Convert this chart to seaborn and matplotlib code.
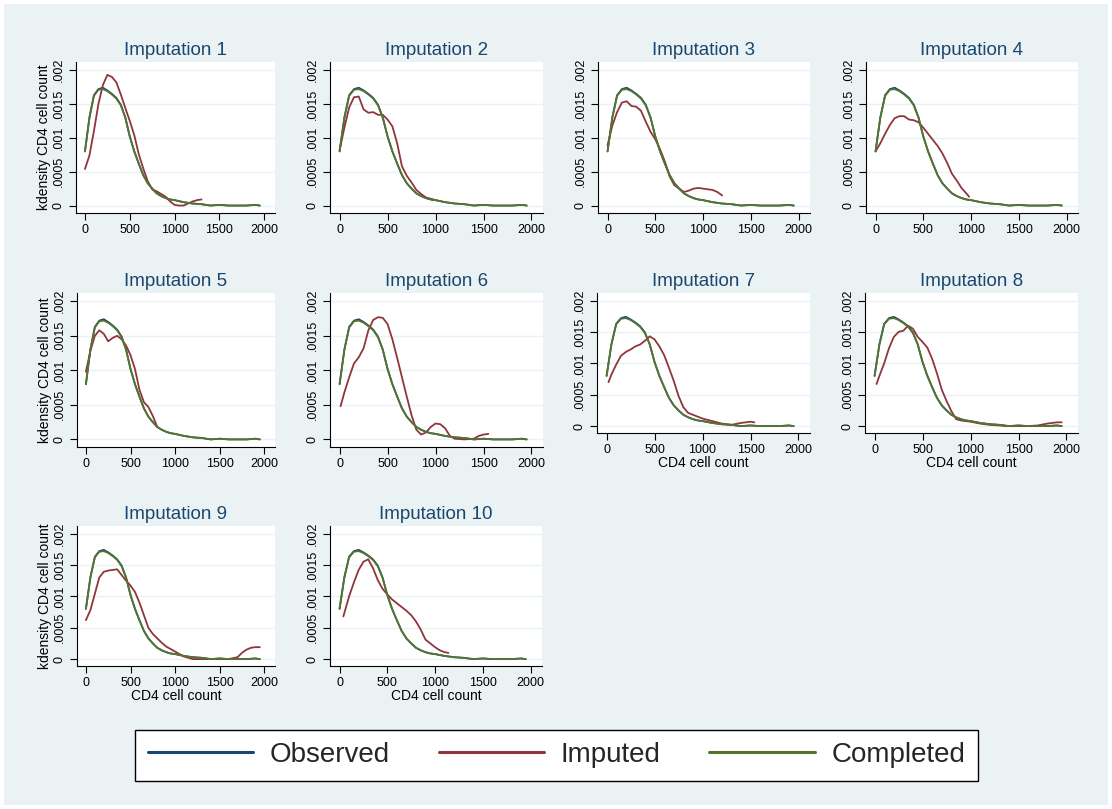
import numpy as np
import pandas as pd
import matplotlib
matplotlib.use("Agg")
import matplotlib.pyplot as plt
import seaborn as sns
from matplotlib.patches import Rectangle
from matplotlib.lines import Line2D

# ---------------- data (density values in units of 0.001) ----------------
obs_x = [0, 50, 100, 150, 200, 250, 300, 350, 400, 450, 500, 550, 600, 650, 700, 750,
         800, 850, 900, 950, 1000, 1100, 1200, 1300, 1400, 1500, 1600, 1700, 1800, 1900, 1950]
observed_y = [0.80, 1.30, 1.63, 1.72, 1.74, 1.70, 1.65, 1.59, 1.49, 1.30, 1.02, 0.80, 0.62, 0.45,
              0.33, 0.25, 0.18, 0.14, 0.11, 0.09, 0.08, 0.05, 0.03, 0.02, 0.00, 0.01, 0.00, 0.00,
              0.00, 0.01, 0.00]
completed_y = [0.80, 1.30, 1.62, 1.71, 1.72, 1.69, 1.64, 1.58, 1.48, 1.30, 1.02, 0.80, 0.62, 0.45,
               0.33, 0.25, 0.18, 0.14, 0.11, 0.09, 0.08, 0.05, 0.03, 0.02, 0.00, 0.01, 0.00, 0.00,
               0.00, 0.01, 0.00]

imp1_x = [0, 50, 100, 150, 200, 250, 300, 350, 400, 450, 500, 550, 600, 650, 700, 750, 800, 850,
          900, 950, 1000, 1050, 1100, 1150, 1200, 1250, 1300]
imp1_y = [0.54, 0.74, 1.10, 1.50, 1.78, 1.93, 1.90, 1.82, 1.64, 1.44, 1.25, 1.04, 0.76, 0.55, 0.36,
          0.24, 0.21, 0.17, 0.13, 0.06, 0.01, 0.00, 0.00, 0.03, 0.06, 0.08, 0.09]

imp2_x = [0, 50, 100, 150, 200, 250, 300, 350, 400, 450, 500, 550, 600, 650, 700, 750, 800, 850,
          900, 950, 1000]
imp2_y = [0.82, 1.15, 1.45, 1.60, 1.61, 1.42, 1.37, 1.38, 1.34, 1.34, 1.27, 1.17, 0.92, 0.58, 0.44,
          0.34, 0.23, 0.17, 0.12, 0.10, 0.08]

imp3_x = [0, 50, 100, 150, 200, 250, 300, 350, 400, 450, 500, 550, 600, 650, 700, 750, 800, 850,
          900, 950, 1000, 1050, 1100, 1150, 1200]
imp3_y = [0.89, 1.18, 1.38, 1.52, 1.54, 1.47, 1.46, 1.40, 1.24, 1.09, 0.98, 0.83, 0.65, 0.43, 0.30,
          0.25, 0.20, 0.22, 0.25, 0.26, 0.25, 0.24, 0.23, 0.20, 0.15]

imp4_x = [0, 50, 100, 150, 200, 250, 300, 350, 400, 450, 500, 550, 600, 650, 700, 750, 800, 850,
          900, 950, 980]
imp4_y = [0.80, 0.92, 1.06, 1.19, 1.29, 1.32, 1.32, 1.27, 1.26, 1.23, 1.15, 1.06, 0.97, 0.88, 0.77,
          0.63, 0.47, 0.37, 0.26, 0.18, 0.13]

imp5_x = [0, 50, 100, 150, 200, 250, 300, 350, 400, 450, 500, 550, 600, 650, 700, 750, 800]
imp5_y = [0.98, 1.28, 1.50, 1.58, 1.53, 1.42, 1.47, 1.50, 1.45, 1.36, 1.22, 1.02, 0.72, 0.54, 0.47,
          0.34, 0.18]

imp6_x = [10, 50, 100, 150, 200, 250, 300, 350, 400, 450, 500, 550, 600, 650, 700, 750, 800, 850,
          900, 950, 1000, 1050, 1100, 1150, 1200, 1300, 1400, 1450, 1500, 1550]
imp6_y = [0.48, 0.68, 0.90, 1.10, 1.19, 1.32, 1.58, 1.73, 1.77, 1.76, 1.67, 1.45, 1.18, 0.90, 0.62,
          0.35, 0.14, 0.07, 0.10, 0.18, 0.23, 0.22, 0.16, 0.05, 0.01, 0.00, 0.01, 0.05, 0.07, 0.08]

imp7_x = [20, 50, 100, 150, 200, 250, 300, 350, 400, 450, 500, 550, 600, 650, 700, 750, 800, 850,
          900, 950, 1000, 1100, 1200, 1300, 1400, 1500, 1540]
imp7_y = [0.70, 0.82, 0.98, 1.12, 1.18, 1.22, 1.27, 1.30, 1.36, 1.43, 1.38, 1.27, 1.13, 0.93, 0.72,
          0.48, 0.30, 0.21, 0.18, 0.15, 0.12, 0.08, 0.04, 0.02, 0.05, 0.07, 0.06]

imp8_x = [20, 50, 100, 150, 200, 250, 300, 350, 400, 450, 500, 550, 600, 650, 700, 750, 800, 850,
          900, 950, 1000, 1100, 1200, 1300, 1400, 1500, 1600, 1700, 1800, 1900, 1950]
imp8_y = [0.67, 0.80, 1.00, 1.24, 1.42, 1.50, 1.52, 1.60, 1.55, 1.42, 1.34, 1.25, 1.07, 0.84, 0.58,
          0.40, 0.24, 0.11, 0.09, 0.08, 0.07, 0.04, 0.02, 0.01, 0.00, 0.00, 0.00, 0.01, 0.04, 0.06,
          0.06]

imp9_x = [0, 50, 100, 150, 200, 250, 300, 350, 400, 450, 500, 550, 600, 650, 700, 750, 800, 850,
          900, 950, 1000, 1100, 1200, 1300, 1400, 1500, 1600, 1700, 1750, 1800, 1850, 1900, 1950]
imp9_y = [0.62, 0.78, 1.04, 1.30, 1.39, 1.41, 1.42, 1.43, 1.34, 1.25, 1.17, 1.07, 0.90, 0.70, 0.50,
          0.40, 0.33, 0.26, 0.20, 0.16, 0.12, 0.04, 0.00, 0.00, 0.00, 0.00, 0.00, 0.03, 0.10, 0.15,
          0.18, 0.19, 0.19]

imp10_x = [40, 100, 150, 200, 250, 300, 350, 400, 450, 500, 550, 600, 650, 700, 750, 800, 850,
           900, 950, 1000, 1050, 1100, 1140]
imp10_y = [0.68, 1.00, 1.22, 1.42, 1.55, 1.59, 1.45, 1.26, 1.12, 1.03, 0.95, 0.89, 0.83, 0.77,
           0.70, 0.60, 0.47, 0.31, 0.25, 0.19, 0.14, 0.11, 0.10]

imputed = [(imp1_x, imp1_y), (imp2_x, imp2_y), (imp3_x, imp3_y), (imp4_x, imp4_y),
           (imp5_x, imp5_y), (imp6_x, imp6_y), (imp7_x, imp7_y), (imp8_x, imp8_y),
           (imp9_x, imp9_y), (imp10_x, imp10_y)]

series_names = ["Observed", "Imputed", "Completed"]
x_ticks = [0, 500, 1000, 1500, 2000]
y_ticks = [0, 0.0005, 0.001, 0.0015, 0.002]
y_tick_labels = ["0", ".0005", ".001", ".0015", ".002"]

# ---------------- styling ----------------
BG = "#EAF2F3"
TITLE_C = "#1a476f"
palette = {"Observed": "#1a476f", "Imputed": "#90353b", "Completed": "#55752f"}

sns.set_theme(style="white")
plt.rcParams['font.family'] = ['Liberation Sans', 'DejaVu Sans']

W, H = 1112, 809
fig = plt.figure(figsize=(W / 100, H / 100), dpi=100, facecolor="white")
fig.patches.append(Rectangle((4 / W, 4 / H), (W - 8) / W, (H - 8) / H, transform=fig.transFigure,
                             facecolor=BG, edgecolor="none", zorder=-10))

# panel boxes in pixels: left, top, right, bottom
boxes = {
    1: (76, 62, 275, 213), 2: (330, 62, 543, 213), 3: (598, 62, 810, 213), 4: (866, 62, 1078, 213),
    5: (77, 293, 275, 447), 6: (330, 293, 543, 447), 7: (597, 293, 810, 433), 8: (865, 293, 1078, 433),
    9: (77, 526, 275, 666), 10: (330, 526, 542, 666),
}

for i in range(1, 11):
    l, t, r, b = boxes[i]
    ax = fig.add_axes([l / W, 1 - b / H, (r - l) / W, (b - t) / H])
    ix, iy = imputed[i - 1]
    df = pd.concat([
        pd.DataFrame({"cd4": obs_x, "density": np.array(observed_y) * 1e-3, "series": "Observed"}),
        pd.DataFrame({"cd4": ix, "density": np.array(iy) * 1e-3, "series": "Imputed"}),
        pd.DataFrame({"cd4": obs_x, "density": np.array(completed_y) * 1e-3, "series": "Completed"}),
    ], ignore_index=True)
    sns.lineplot(data=df, x="cd4", y="density", hue="series", hue_order=series_names,
                 palette=palette, estimator=None, sort=False, legend=False, ax=ax, linewidth=1.3)
    ax.set_facecolor("white")
    ax.set_xlim(-100, 2120)
    ax.set_ylim(-0.00011, 0.00212)
    ax.set_xticks(x_ticks)
    ax.set_xticklabels([str(v) for v in x_ticks])
    ax.set_yticks(y_ticks)
    ax.set_yticklabels(y_tick_labels)
    ax.tick_params(axis="both", direction="out", length=5, width=0.8, color="black",
                   labelsize=9, labelcolor="black", bottom=True, left=True)
    ax.tick_params(axis="y", labelrotation=90, pad=3)
    ax.tick_params(axis="x", pad=3)
    for lab in ax.get_yticklabels():
        lab.set_va("center")
    ax.grid(axis="y", color=BG, linewidth=1.0)
    ax.grid(axis="x", visible=False)
    ax.set_axisbelow(True)
    for s in ["top", "right"]:
        ax.spines[s].set_visible(False)
    for s in ["left", "bottom"]:
        ax.spines[s].set_color("black")
        ax.spines[s].set_linewidth(0.8)
    ax.set_title(f"Imputation {i}", color=TITLE_C, fontsize=13.5, pad=5)
    if i in (1, 5, 9):
        ax.set_ylabel("kdensity CD4 cell count", fontsize=10, labelpad=1, color="black")
    else:
        ax.set_ylabel("")
    if i in (7, 8, 9, 10):
        ax.set_xlabel("CD4 cell count", fontsize=10, labelpad=0, color="black")
    else:
        ax.set_xlabel("")

handles = [Line2D([0], [0], color=palette[n], linewidth=2.2) for n in series_names]
leg = fig.legend(handles, series_names, loc="center", bbox_to_anchor=(556.5 / W, 1 - 755 / H),
                 ncol=3, fontsize=20, frameon=True, fancybox=False, edgecolor="black",
                 facecolor="white", framealpha=1, handlelength=3.8, handletextpad=0.6,
                 columnspacing=1.75, borderpad=0.45)
leg.get_frame().set_linewidth(1.0)

fig.savefig("out.png", dpi=100, facecolor=fig.get_facecolor())
